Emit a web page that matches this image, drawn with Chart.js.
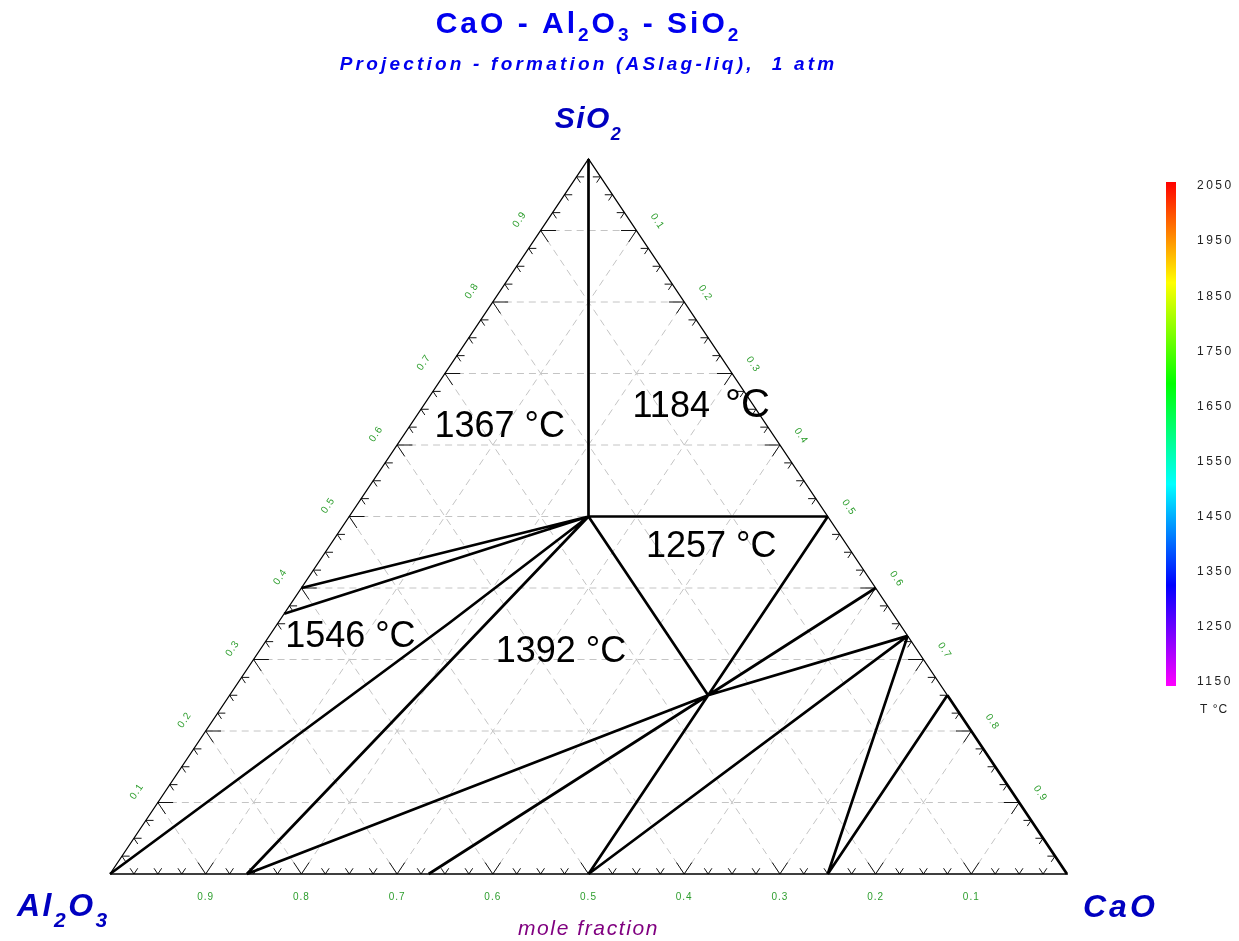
<!DOCTYPE html>
<html>
<head>
<meta charset="utf-8">
<title>CaO - Al2O3 - SiO2</title>
<script src="https://cdn.jsdelivr.net/npm/chart.js@4.4.1/dist/chart.umd.min.js"></script>
<style>
  html, body { margin: 0; padding: 0; background: #fff; }
  canvas { display: block; }
</style>
</head>
<body>
<canvas id="diagram" width="1239" height="941"></canvas>
<script>
// compositions are [CaO, SiO2] mole fractions, Al2O3 is the rest
const tieLines = [
  [[0, 1], [0.25, 0.5]],
  [[0.25, 0.5], [0.5, 0.5]],
  [[0.25, 0.5], [0.5, 0.25]],
  [[0.5, 0.5], [0.5, 0.25]],
  [[0.6, 0.4], [0.5, 0.25]],
  [[0.667, 0.333], [0.5, 0.25]],
  [[0.667, 0.333], [0.5, 0]],
  [[0.667, 0.333], [0.75, 0]],
  [[0.75, 0.25], [0.75, 0]],
  [[0.75, 0.25], [1, 0]],
  [[0.5, 0.25], [0.5, 0]],
  [[0.5, 0.25], [0.333, 0]],
  [[0.5, 0.25], [0.143, 0]],
  [[0.25, 0.5], [0.143, 0]],
  [[0.25, 0.5], [0.179, 0.351], [0, 0]],
  [[0.25, 0.5], [0, 0.4]],
  [[0.25, 0.5], [0, 0.364]]
];

const regionTemps = ["1367", "1184", "1257", "1546", "1392"];
// label anchors (left, baseline) in plot units
const regionX = [0.339, 0.546, 0.560, 0.183, 0.403];
const regionY = [0.611, 0.639, 0.444, 0.317, 0.296];

const fracTicks = [0.1, 0.2, 0.3, 0.4, 0.5, 0.6, 0.7, 0.8, 0.9];
const tempTicks = [2050, 1950, 1850, 1750, 1650, 1550, 1450, 1350, 1250, 1150];

const FONT = "'Liberation Sans', Arial, sans-serif";
const GAP = { x: null, y: null };

// ternary -> plot units: base runs Al2O3 (0) to CaO (1), apex is SiO2
function tern(c, s) {
  return { x: c + s / 2, y: s };
}

function buildPolylines(list) {
  const pts = [];
  list.forEach(line => {
    line.forEach(p => pts.push(p));
    pts.push(GAP);
  });
  return pts;
}

const tiePts = buildPolylines(tieLines.map(l => l.map(([c, s]) => tern(c, s))));

const gridLines = [];
fracTicks.forEach(v => {
  gridLines.push([tern(0, v), tern(1 - v, v)]);
  gridLines.push([tern(v, 0), tern(v, 1 - v)]);
  gridLines.push([tern(1 - v, 0), tern(0, 1 - v)]);
});

// edge ticks every 0.025, long ones at each 0.1
const tickLines = [];
for (let k = 1; k < 40; k++) {
  const v = k * 0.025;
  const L = k % 4 === 0 ? 0.016 : 0.008;
  let p = tern(v, 0);
  tickLines.push([{ x: p.x - L / 2, y: L }, p, { x: p.x + L / 2, y: L }]);
  p = tern(0, v);
  tickLines.push([{ x: p.x + L, y: p.y }, p, { x: p.x + L / 2, y: p.y - L }]);
  p = tern(v, 1 - v);
  tickLines.push([{ x: p.x - L, y: p.y }, p, { x: p.x - L / 2, y: p.y - L }]);
}

const frame = [tern(0, 0), tern(1, 0), tern(0, 1), tern(0, 0)];

function richText(ctx, runs, x, y, o) {
  ctx.letterSpacing = o.spacing || "0px";
  const widths = runs.map(([t, sub]) => {
    ctx.font = sub ? o.subFont : o.font;
    return ctx.measureText(t).width;
  });
  const total = widths.reduce((a, b) => a + b, 0);
  let cx = o.center ? x - total / 2 : x;
  runs.forEach(([t, sub], i) => {
    ctx.font = sub ? o.subFont : o.font;
    ctx.fillText(t, cx, sub ? y + o.drop : y);
    cx += widths[i];
  });
  ctx.letterSpacing = "0px";
}

const diagramText = {
  id: "diagramText",
  afterDraw(chart) {
    const ctx = chart.ctx;
    const px = v => chart.scales.x.getPixelForValue(v);
    const py = v => chart.scales.y.getPixelForValue(v);
    ctx.save();
    ctx.textAlign = "left";
    ctx.textBaseline = "alphabetic";

    // title block
    ctx.fillStyle = "#0000ee";
    richText(ctx, [["CaO - Al", 0], ["2", 1], ["O", 0], ["3", 1], [" - SiO", 0], ["2", 1]],
      px(0.5), 33, { font: "bold 30px " + FONT, subFont: "bold 19px " + FONT, drop: 8, spacing: "3px", center: true });
    richText(ctx, [["Projection - formation (ASlag-liq),  1 atm", 0]],
      px(0.5), 70, { font: "italic bold 19px " + FONT, spacing: "3.2px", center: true });

    // corner labels
    ctx.fillStyle = "#0000c0";
    richText(ctx, [["SiO", 0], ["2", 1]], px(0.5), py(1) - 31,
      { font: "italic bold 30px " + FONT, subFont: "italic bold 18px " + FONT, drop: 12, spacing: "1.5px", center: true });
    richText(ctx, [["Al", 0], ["2", 1], ["O", 0], ["3", 1]], px(0) - 93, py(0) + 42,
      { font: "italic bold 32px " + FONT, subFont: "italic bold 21px " + FONT, drop: 11, spacing: "2.5px" });
    richText(ctx, [["CaO", 0]], px(1) + 16, py(0) + 43,
      { font: "italic bold 32px " + FONT, spacing: "3px" });

    ctx.fillStyle = "#800080";
    richText(ctx, [["mole fraction", 0]], px(0.5), 935,
      { font: "italic 21px " + FONT, spacing: "1.6px", center: true });

    // axis labels along the three edges
    ctx.fillStyle = "#2e9e2e";
    ctx.font = "10px " + FONT;
    ctx.letterSpacing = "1px";
    ctx.textAlign = "center";
    ctx.textBaseline = "middle";
    const leftAng = Math.atan2(py(1) - py(0), px(0.5) - px(0));
    const rightAng = Math.atan2(py(0) - py(1), px(1) - px(0.5));
    fracTicks.forEach(v => {
      const lab = v.toFixed(1);
      ctx.fillText(lab, px(1 - v), py(0) + 23);
      let p = tern(0, v);
      ctx.save();
      ctx.translate(px(p.x) - 21, py(p.y) - 11);
      ctx.rotate(leftAng);
      ctx.fillText(lab, 0, 0);
      ctx.restore();
      p = tern(v, 1 - v);
      ctx.save();
      ctx.translate(px(p.x) + 21, py(p.y) - 9);
      ctx.rotate(rightAng);
      ctx.fillText(lab, 0, 0);
      ctx.restore();
    });
    ctx.letterSpacing = "0px";

    // temperatures of the compatibility triangles
    ctx.fillStyle = "#000";
    ctx.textAlign = "left";
    ctx.textBaseline = "alphabetic";
    regionTemps.forEach((t, i) => {
      const x = px(regionX[i]), y = py(regionY[i]);
      ctx.font = "36px " + FONT;
      const w = ctx.measureText(t).width;
      ctx.fillText(t, x, y);
      const wide = t === "1184";
      ctx.font = (wide ? "40px " : "36px ") + FONT;
      ctx.fillText("°C", x + w + (wide ? 15 : 10), y);
    });

    // colour bar
    const barX = 1166, barW = 10, barTop = 182, barBot = 686;
    const grad = ctx.createLinearGradient(0, barTop, 0, barBot);
    for (let i = 0; i <= 10; i++) grad.addColorStop(i / 10, "hsl(" + (30 * i) + ",100%,50%)");
    ctx.fillStyle = grad;
    ctx.fillRect(barX, barTop, barW, barBot - barTop);
    ctx.fillStyle = "#222";
    ctx.font = "12px " + FONT;
    ctx.letterSpacing = "2.5px";
    ctx.textBaseline = "middle";
    const step = (barBot - barTop - 8) / (tempTicks.length - 1);
    tempTicks.forEach((t, i) => ctx.fillText(String(t), barX + 31, barTop + 4 + i * step));
    ctx.letterSpacing = "1px";
    ctx.fillText("T °C", barX + 34, 710);
    ctx.restore();
  }
};

new Chart(document.getElementById("diagram"), {
  type: "scatter",
  data: {
    datasets: [
      { data: tiePts, showLine: true, borderColor: "#000", borderWidth: 2.7, order: 0 },
      { data: frame, showLine: true, borderColor: "#000", borderWidth: 1.3, order: 1 },
      { data: buildPolylines(tickLines), showLine: true, borderColor: "#111", borderWidth: 1, order: 2 },
      { data: buildPolylines(gridLines), showLine: true, borderColor: "#c4c4c4", borderWidth: 1, borderDash: [7, 5], order: 3 }
    ]
  },
  options: {
    responsive: false,
    devicePixelRatio: 1,
    animation: false,
    layout: { padding: { left: 110, right: 172, top: 159, bottom: 67 } },
    elements: { point: { radius: 0, hoverRadius: 0 }, line: { tension: 0, spanGaps: false } },
    datasets: { scatter: { clip: false, spanGaps: false } },
    scales: {
      x: { type: "linear", min: 0, max: 1, display: false },
      y: { type: "linear", min: 0, max: 1, display: false }
    },
    plugins: { legend: { display: false }, tooltip: { enabled: false } }
  },
  plugins: [diagramText]
});
</script>
</body>
</html>
